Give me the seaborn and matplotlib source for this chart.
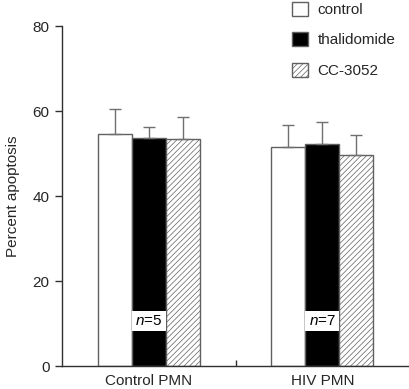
import pandas as pd
import matplotlib.pyplot as plt
import seaborn as sns
from matplotlib.patches import Patch

groups = ['Control PMN', 'HIV PMN']
treatments = ['control', 'thalidomide', 'CC-3052']
# mean percent apoptosis, per group, per treatment
means = {'control': [54.5, 51.5], 'thalidomide': [53.7, 52.2], 'CC-3052': [53.3, 49.6]}
# upper error (SD) above the bar top
errors = {'control': [6.0, 5.2], 'thalidomide': [2.5, 5.3], 'CC-3052': [5.2, 4.7]}
n_labels = ['5', '7']

sns.set_style('ticks')
plt.rcParams['font.family'] = ['Liberation Sans', 'DejaVu Sans']
plt.rcParams['mathtext.fontset'] = 'custom'
plt.rcParams['mathtext.it'] = 'Liberation Sans:italic'
plt.rcParams['mathtext.rm'] = 'Liberation Sans'
plt.rcParams['hatch.linewidth'] = 0.5

rows = []
for t in treatments:
    for g, m in zip(groups, means[t]):
        rows.append({'group': g, 'treatment': t, 'value': m})
df = pd.DataFrame(rows)

edge = '#606060'
fs = 11
fig = plt.figure(figsize=(4.09, 3.89), dpi=100)
ax = fig.add_axes([0.1516, 0.0591, 0.8484, 0.874])

sns.barplot(data=df, x='group', y='value', hue='treatment', hue_order=treatments,
            order=groups, palette=['white', 'black', 'white'], errorbar=None,
            width=0.59, edgecolor=edge, linewidth=1, legend=False, ax=ax)

for t, cont in zip(treatments, ax.containers):
    xs = [p.get_x() + p.get_width() / 2 for p in cont.patches]
    if t == 'CC-3052':
        for p in cont.patches:
            p.set_hatch('//////')
    ax.errorbar(xs, means[t], yerr=[[0] * len(xs), errors[t]], fmt='none',
                ecolor='#707070', elinewidth=1, capsize=4.5, capthick=1, zorder=1)

# n= labels on the thalidomide bars
for p, n in zip(ax.containers[1].patches, n_labels):
    ax.text(p.get_x() + p.get_width() / 2, 10.6, '$n$=' + n, ha='center', va='center',
            fontsize=fs, color='black',
            bbox=dict(boxstyle='square,pad=0.22', facecolor='white', edgecolor='none'))

ax.set_ylim(0, 80)
ax.set_xlim(-0.5, 1.5)
ax.set_yticks([0, 20, 40, 60, 80])
ax.set_xlabel('')
ax.set_ylabel('Percent apoptosis', fontsize=fs, labelpad=9)
ax.tick_params(axis='y', labelsize=fs, length=5, width=1, color='#303030', pad=4)
ax.tick_params(axis='x', which='major', length=0, labelsize=fs, pad=6)
ax.set_xticks([0.5], minor=True)
ax.tick_params(axis='x', which='minor', direction='in', length=4, width=1, color='#303030')
sns.despine(ax=ax)
for s in ['left', 'bottom']:
    ax.spines[s].set_color('#303030')
    ax.spines[s].set_linewidth(1)

handles = [Patch(facecolor='white', edgecolor=edge, label='control'),
           Patch(facecolor='black', edgecolor=edge, label='thalidomide'),
           Patch(facecolor='white', edgecolor=edge, hatch='//////', label='CC-3052')]
fig.legend(handles=handles, loc='upper left', bbox_to_anchor=(292 / 409, 1 - 1.5 / 389),
           frameon=False, fontsize=fs, handlelength=1.05, handleheight=1.05,
           handletextpad=0.62, labelspacing=1.0, borderpad=0, borderaxespad=0)

fig.savefig('out.png', dpi=100)
